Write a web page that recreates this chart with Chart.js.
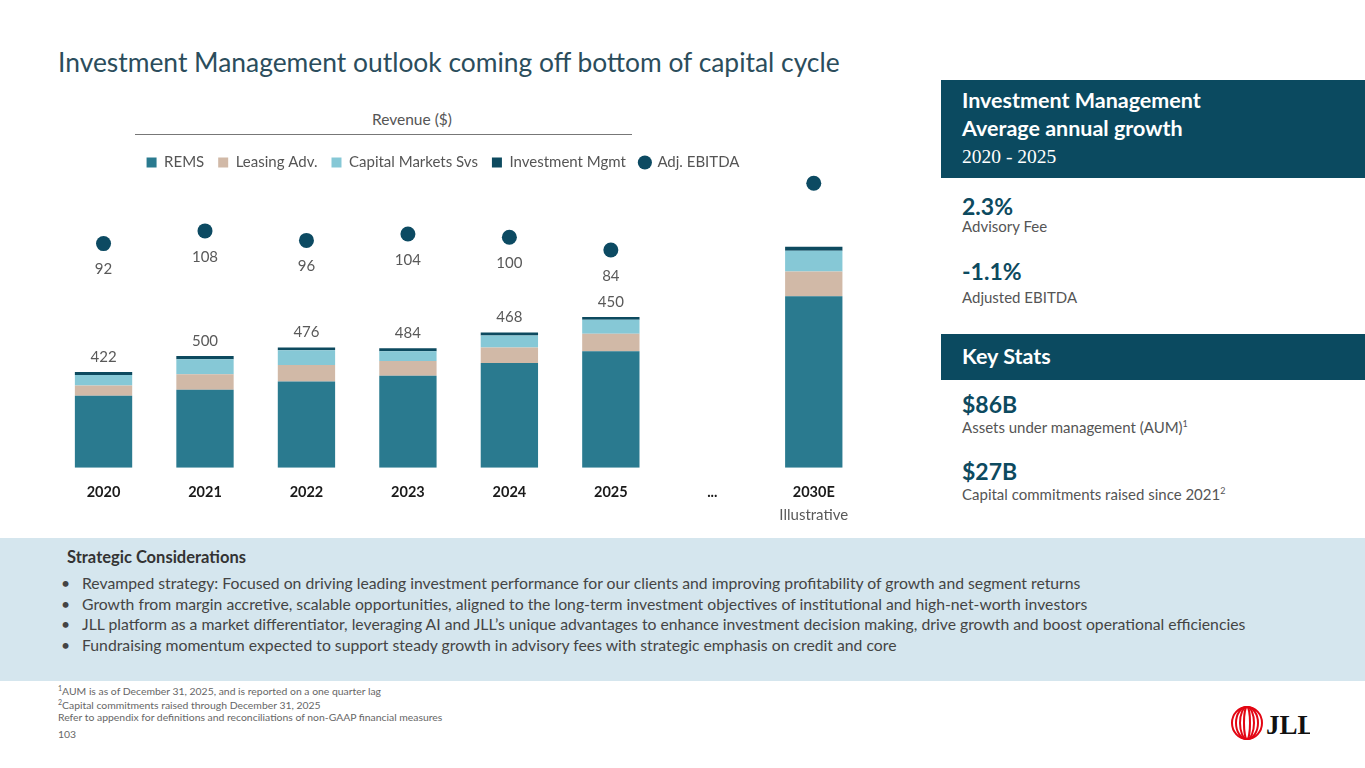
<!DOCTYPE html>
<html>
<head>
<meta charset="utf-8">
<script src="https://cdn.jsdelivr.net/npm/chart.js@4.4.1/dist/chart.umd.min.js"></script>
<style>
  html, body { margin: 0; padding: 0; }
  body { width: 1365px; height: 768px; position: relative; overflow: hidden; background: #fff; font-family: Lato, "Noto Sans", sans-serif; color: #444; }
  .abs { position: absolute; }
  #title { left: 58px; top: 46px; font-size: 26.4px; color: #2b4d5c; white-space: nowrap; }
  #revTitle { left: 372px; top: 110px; font-size: 15.5px; color: #555; white-space: nowrap; }
  #revLine { left: 135px; width: 497px; top: 134px; height: 1px; background: #777; }
  #chartBox { left: 14px; top: 141px; width: 858px; height: 389px; }
  .hdr { left: 941px; width: 424px; background: #0b4a60; color: #fff; }
  .hdr b { font-size: 21.5px; font-weight: 700; }
  .stat { left: 962px; color: #0d4a5f; font-weight: 700; font-size: 23px; }
  .sub { left: 962px; color: #555; font-size: 15px; }
  #band { left: 0; top: 538px; width: 1365px; height: 143px; background: #d5e6ee; }
  #band h4 { margin: 0; position: absolute; left: 67px; top: 9px; font-size: 16.5px; color: #333; }
  #band ul { margin: 0; padding: 0; list-style: none; position: absolute; left: 61px; top: 35px; font-size: 15.75px; color: #444; }
  #band li { height: 20.6px; line-height: 20px; white-space: nowrap; }
  #band li span { display: inline-block; width: 21px; }
  .fn { left: 58px; font-size: 10.4px; color: #666; white-space: nowrap; }
</style>
</head>
<body>
<div id="title" class="abs">Investment Management outlook coming off bottom of capital cycle</div>
<div id="revTitle" class="abs">Revenue ($)</div>
<div id="revLine" class="abs"></div>
<div id="chartBox" class="abs"><canvas id="chart"></canvas></div>

<div class="abs hdr" style="top:80px;height:98px;">
  <div class="abs" style="left:21px;top:7px;line-height:26px;"><b>Investment Management<br>Average annual growth</b></div>
  <div class="abs" style="left:21px;top:66px;font-size:19.5px;font-family:'Liberation Serif',serif;">2020 - 2025</div>
</div>
<div class="abs stat" style="top:192px;">2.3%</div>
<div class="abs sub" style="top:217px;">Advisory Fee</div>
<div class="abs stat" style="top:257px;">-1.1%</div>
<div class="abs sub" style="top:288px;">Adjusted EBITDA</div>
<div class="abs hdr" style="top:334px;height:46px;">
  <div class="abs" style="left:21px;top:9px;"><b>Key Stats</b></div>
</div>
<div class="abs stat" style="top:390px;">$86B</div>
<div class="abs sub" style="top:418px;">Assets under management (AUM)<sup style="font-size:9px;">1</sup></div>
<div class="abs stat" style="top:457px;">$27B</div>
<div class="abs sub" style="top:485px;">Capital commitments raised since 2021<sup style="font-size:9px;">2</sup></div>

<div id="band" class="abs">
  <h4>Strategic Considerations</h4>
  <ul>
    <li><span>•</span>Revamped strategy: Focused on driving leading investment performance for our clients and improving profitability of growth and segment returns</li>
    <li><span>•</span>Growth from margin accretive, scalable opportunities, aligned to the long-term investment objectives of institutional and high-net-worth investors</li>
    <li><span>•</span>JLL platform as a market differentiator, leveraging AI and JLL’s unique advantages to enhance investment decision making, drive growth and boost operational efficiencies</li>
    <li><span>•</span>Fundraising momentum expected to support steady growth in advisory fees with strategic emphasis on credit and core</li>
  </ul>
</div>

<div class="abs fn" style="top:684px;"><sup style="font-size:7px;">1</sup>AUM is as of December 31, 2025, and is reported on a one quarter lag</div>
<div class="abs fn" style="top:698px;"><sup style="font-size:7px;">2</sup>Capital commitments raised through December 31, 2025</div>
<div class="abs fn" style="top:711px;">Refer to appendix for definitions and reconciliations of non-GAAP financial measures</div>
<div class="abs fn" style="top:728px;">103</div>

<svg class="abs" style="left:1228px;top:704px;" width="82" height="38" viewBox="0 0 82 38">
  <g fill="none" stroke="#e30613" stroke-width="2">
    <ellipse cx="19" cy="19" rx="15" ry="16"/>
    <ellipse cx="19" cy="19" rx="11" ry="16"/>
    <ellipse cx="19" cy="19" rx="7" ry="16"/>
    <ellipse cx="19" cy="19" rx="3" ry="16"/>
  </g>
  <text x="38" y="30" font-family="'Liberation Serif',serif" font-weight="700" font-size="27" fill="#111">JLL</text>
</svg>

<script>
const categories = ['2020', '2021', '2022', '2023', '2024', '2025', '...', '2030E'];
const subLabels = ['', '', '', '', '', '', '', 'Illustrative'];
const rems = [319, 345, 382, 408, 464, 516, null, 759];
const leasing = [45, 69, 73, 65, 69, 77, null, 110];
const capitalMarkets = [47, 66, 65, 43, 53, 62, null, 92];
const investmentMgmt = [13, 15, 13, 13, 13, 13, null, 18];
const revenueLabels = [422, 500, 476, 484, 468, 450, null, null];
const ebitda = [92, 108, 96, 104, 100, 84, null, 168];
const ebitdaLabelShown = [true, true, true, true, true, true, false, false];

const labelPlugin = {
    id: 'labelPlugin',
    afterDatasetsDraw(chart) {
        const ctx = chart.ctx;
        const topBars = chart.getDatasetMeta(3);
        const dots = chart.getDatasetMeta(4);
        ctx.save();
        ctx.textAlign = 'center';
        ctx.textBaseline = 'middle';
        ctx.fillStyle = '#595959';
        ctx.font = '15px Lato';
        revenueLabels.forEach((v, i) => {
            if (v == null) return;
            const el = topBars.data[i];
            ctx.fillText(v, el.x, el.y - 15);
        });
        ebitda.forEach((v, i) => {
            if (!ebitdaLabelShown[i]) return;
            const p = dots.data[i];
            ctx.fillText(v, p.x, p.y + 26);
        });
        const x = chart.scales.x;
        subLabels.forEach((t, i) => {
            if (!t) return;
            ctx.fillText(t, x.getPixelForValue(i), chart.chartArea.bottom + 47);
        });
        ctx.restore();
    }
};

const barSet = (label, data, color) => ({
    type: 'bar',
    label: label,
    data: data,
    backgroundColor: color,
    stack: 'rev',
    yAxisID: 'y',
    pointStyle: 'rect',
    barPercentage: 0.565,
    categoryPercentage: 1,
    order: 2
});

new Chart(document.getElementById('chart'), {
    data: {
        labels: categories,
        datasets: [
            barSet('REMS', rems, '#2a7a8f'),
            barSet('Leasing Adv.', leasing, '#d1b9a7'),
            barSet('Capital Markets Svs', capitalMarkets, '#86c8d6'),
            barSet('Investment Mgmt', investmentMgmt, '#0d4a5f'),
            {
                type: 'line',
                label: 'Adj. EBITDA',
                data: ebitda,
                yAxisID: 'y2',
                showLine: false,
                pointStyle: 'circle',
                pointRadius: 7.5,
                pointHoverRadius: 7.5,
                backgroundColor: '#0c4a62',
                borderColor: '#0c4a62',
                borderWidth: 0,
                clip: false,
                order: 1
            }
        ]
    },
    options: {
        responsive: true,
        maintainAspectRatio: false,
        animation: false,
        layout: { padding: { top: 0, bottom: 12.8 } },
        scales: {
            x: {
                grid: { display: false, drawTicks: false },
                border: { display: false },
                ticks: { color: '#1a1a1a', font: { family: 'Lato', size: 14.5, weight: 'bold' }, padding: 16 }
            },
            y: {
                min: 0,
                max: 1274,
                stacked: true,
                grid: { display: false, drawTicks: false },
                border: { display: false },
                ticks: { display: false },
                afterFit: scale => { scale.width = 38.8; }
            },
            y2: {
                min: -190,
                max: 172,
                display: false
            }
        },
        plugins: {
            legend: {
                position: 'top',
                labels: {
                    usePointStyle: true,
                    boxWidth: 10,
                    boxHeight: 10,
                    padding: 14,
                    color: '#555',
                    font: { family: 'Lato', size: 15 },
                    sort: (a, b) => a.datasetIndex - b.datasetIndex
                }
            },
            tooltip: { enabled: false }
        }
    },
    plugins: [labelPlugin]
});
</script>
</body>
</html>
